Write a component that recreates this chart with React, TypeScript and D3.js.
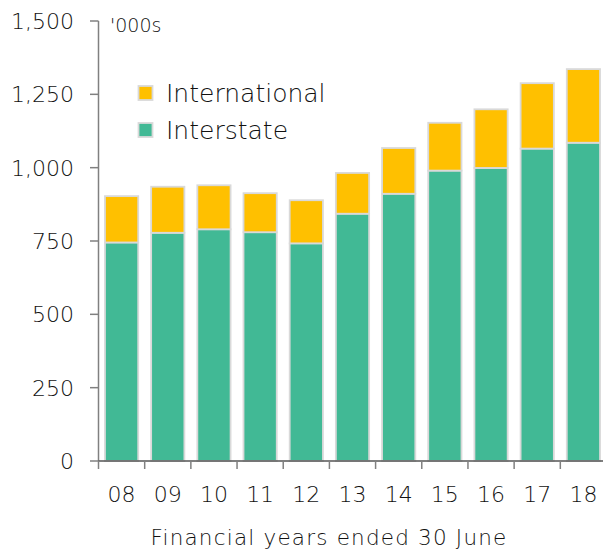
import React, { useEffect, useRef } from 'react';
import * as d3 from 'd3';

const years = ['08', '09', '10', '11', '12', '13', '14', '15', '16', '17', '18'];
const interstate = [745, 778, 790, 780, 742, 843, 911, 990, 999, 1065, 1085];
const international = [158, 157, 150, 133, 147, 139, 156, 163, 200, 223, 251];
const yTicks = [0, 250, 500, 750, 1000, 1250, 1500];

const FONT = "'DejaVu Sans', sans-serif";
const GREEN = '#41b995';
const YELLOW = '#ffc000';
const EDGE = '#d9d9d9';
const INK = '#111';

export default function App() {
  const ref = useRef<SVGSVGElement>(null);

  useEffect(() => {
    const svg = d3.select(ref.current);
    svg.selectAll('*').remove();

    const x = d3.scaleBand().domain(years).range([98.5, 606.5]).paddingInner(0.28).paddingOuter(0.14);
    const y = d3.scaleLinear().domain([0, 1500]).range([461, 21]);

    const g = svg.append('g');

    // bars
    years.forEach((yr, i) => {
      const bw = x.bandwidth();
      const x0 = x(yr)!;
      const a = interstate[i];
      const b = international[i];
      g.append('rect')
        .attr('x', x0).attr('y', y(a)).attr('width', bw).attr('height', y(0) - y(a))
        .attr('fill', GREEN).attr('stroke', EDGE).attr('stroke-width', 1.8);
      g.append('rect')
        .attr('x', x0).attr('y', y(a + b)).attr('width', bw).attr('height', y(a) - y(a + b))
        .attr('fill', YELLOW).attr('stroke', EDGE).attr('stroke-width', 1.8);
    });

    // y axis
    g.append('line').attr('x1', 98.5).attr('x2', 98.5).attr('y1', y(1500)).attr('y2', y(0))
      .attr('stroke', '#808080').attr('stroke-width', 1.5);
    yTicks.forEach(t => {
      g.append('line').attr('x1', 90).attr('x2', 98.5).attr('y1', y(t)).attr('y2', y(t))
        .attr('stroke', '#808080').attr('stroke-width', 1.5);
      g.append('text').attr('x', 74).attr('y', y(t)).attr('dy', '0.36em')
        .attr('text-anchor', 'end').attr('font-size', 22).attr('font-family', FONT)
        .attr('font-weight', 200).attr('fill', INK).text(d3.format(',')(t));
    });

    // x axis
    g.append('line').attr('x1', 98.5).attr('x2', 606).attr('y1', y(0)).attr('y2', y(0))
      .attr('stroke', '#555').attr('stroke-width', 1.5);
    const step = x.step();
    years.forEach((yr, i) => {
      const tx = 98.5 + i * step;
      g.append('line').attr('x1', tx).attr('x2', tx).attr('y1', y(0)).attr('y2', y(0) + 8)
        .attr('stroke', '#808080').attr('stroke-width', 1.5);
      g.append('text').attr('x', x(yr)! + x.bandwidth() / 2).attr('y', 494).attr('dy', '0.36em')
        .attr('text-anchor', 'middle').attr('font-size', 22).attr('font-family', FONT)
        .attr('font-weight', 200).attr('fill', INK).text(yr);
    });

    g.append('text').attr('x', 329).attr('y', 537).attr('dy', '0.36em')
      .attr('text-anchor', 'middle').attr('font-size', 21.5).attr('font-family', FONT)
      .attr('font-weight', 200).attr('letter-spacing', 1.2).attr('fill', INK)
      .text('Financial years ended 30 June');

    g.append('text').attr('x', 110).attr('y', 25).attr('dy', '0.36em')
      .attr('font-size', 19).attr('font-family', FONT).attr('font-weight', 200)
      .attr('fill', INK).text("'000s");

    // legend
    const legend = [
      { label: 'International', color: YELLOW, cy: 93 },
      { label: 'Interstate', color: GREEN, cy: 130 },
    ];
    legend.forEach(l => {
      g.append('rect').attr('x', 138.5).attr('y', l.cy - 7).attr('width', 14).attr('height', 14)
        .attr('fill', l.color).attr('stroke', EDGE).attr('stroke-width', 1.8);
      g.append('text').attr('x', 166).attr('y', l.cy).attr('dy', '0.36em')
        .attr('font-size', 25).attr('font-family', FONT).attr('font-weight', 200)
        .attr('fill', INK).text(l.label);
    });
  }, []);

  return <svg ref={ref} width={603} height={553} style={{ position: 'absolute', left: 0, top: 0 }} />;
}
